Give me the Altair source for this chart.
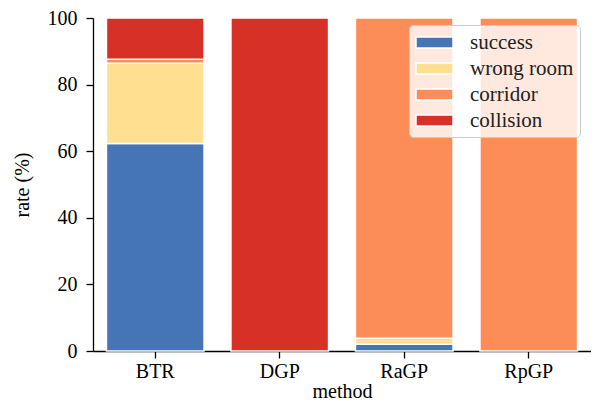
import altair as alt
import pandas as pd

methods = ["BTR", "DGP", "RaGP", "RpGP"]
outcomes = ["success", "wrong room", "corridor", "collision"]
colors = ["#4575b4", "#fee090", "#fc8d59", "#d73027"]

success = [62.3, 0.0, 2.0, 0.0]
wrong_room = [24.1, 0.0, 1.8, 0.0]
corridor = [1.2, 0.0, 96.2, 100.0]
collision = [12.4, 100.0, 0.0, 0.0]

series = [success, wrong_room, corridor, collision]
rows = []
for k, (name, vals) in enumerate(zip(outcomes, series)):
    for m, v in zip(methods, vals):
        if v > 0:
            rows.append({"method": m, "outcome": name, "rate": v, "order": k})
df = pd.DataFrame(rows)

FONT = "Liberation Serif"

chart = alt.Chart(df).mark_bar(stroke="white", strokeWidth=1.5).encode(
    x=alt.X("method:N", sort=methods,
            scale=alt.Scale(paddingInner=0.216, paddingOuter=0.108),
            axis=alt.Axis(title="method", labelAngle=0, labelPadding=3, titlePadding=0)),
    y=alt.Y("rate:Q", stack="zero",
            scale=alt.Scale(domain=[0, 100], nice=False),
            axis=alt.Axis(title="rate (%)", values=[0, 20, 40, 60, 80, 100],
                          labelPadding=9, titlePadding=15)),
    color=alt.Color("outcome:N",
                    scale=alt.Scale(domain=outcomes, range=colors),
                    legend=alt.Legend(title=None, orient="none", legendX=316, legendY=7)),
    order=alt.Order("order:Q", sort="ascending"),
).properties(
    width=498, height=333,
    padding={"left": 85, "top": 10, "right": 0, "bottom": 49},
    autosize=alt.AutoSizeParams(type="none"),
).configure_view(stroke=None).configure_axis(
    domainColor="black", domainWidth=1.3, tickColor="black", tickWidth=1.3, tickSize=7,
    labelColor="black", titleColor="black", labelFont=FONT, titleFont=FONT,
    labelFontSize=20, titleFontSize=20, titleFontWeight="normal", grid=False,
).configure_legend(
    labelFont=FONT, labelFontSize=21, labelColor="#222222",
    padding=6, fillColor="rgba(255,255,255,0.8)", strokeColor="#cccccc",
    cornerRadius=4, symbolType="M-1,-0.524H2.524V0.524H-1Z", symbolSize=441,
    symbolStrokeColor="white", symbolStrokeWidth=1.5, symbolOpacity=1,
    labelOffset=32, rowPadding=4,
)

chart.save("out.html", embed_options={"renderer": "svg", "actions": False})
